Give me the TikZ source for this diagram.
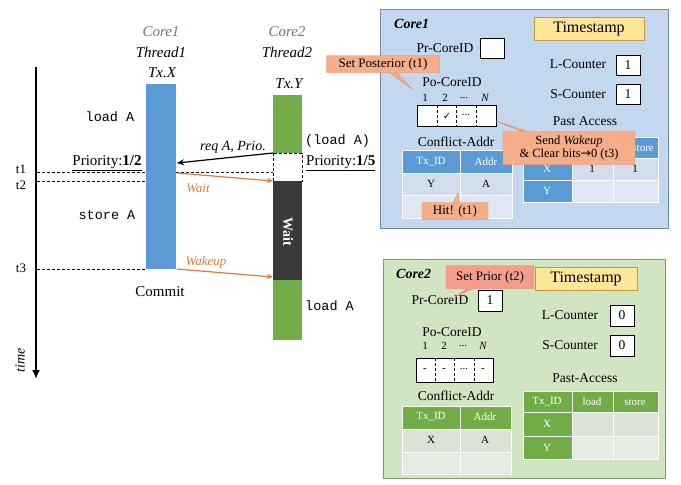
\documentclass[tikz,border=0pt]{standalone}
\usepackage{fontspec}
\setmainfont{Liberation Serif}
\setmonofont{Liberation Mono}
\newfontfamily\symfont{DejaVu Sans}
\usetikzlibrary{arrows.meta,shapes.callouts}
\definecolor{bluebar}{HTML}{5B9BD5}
\definecolor{greenbar}{HTML}{70AD47}
\definecolor{darkbar}{HTML}{3A3838}
\definecolor{panelA}{HTML}{C3D7EE}
\definecolor{panelAline}{HTML}{6C8CAE}
\definecolor{panelB}{HTML}{D2E5C2}
\definecolor{panelBline}{HTML}{7E9C66}
\definecolor{cellA}{HTML}{D3DEEC}
\definecolor{cellAb}{HTML}{DFE7F2}
\definecolor{cellB}{HTML}{DCE3D5}
\definecolor{cellBb}{HTML}{E6EBE1}
\definecolor{tsfill}{HTML}{FFE699}
\definecolor{tsline}{HTML}{C99A3A}
\definecolor{callfill}{HTML}{F5AE88}
\definecolor{callline}{HTML}{E88A5C}
\definecolor{priorfill}{HTML}{F39E8C}
\definecolor{orangearr}{HTML}{E07B39}
\definecolor{corelbl}{HTML}{5F7891}
\newcommand\myfs[1]{\fontsize{#1}{#1}\selectfont}
\begin{document}
\begin{tikzpicture}[x=1pt,y=-1pt,
  txt/.style={inner sep=0pt},
  serif15/.style={txt,font=\myfs{15}},
  mono/.style={txt,font=\ttfamily\myfs{13.5}},
  paneltxt/.style={txt,font=\myfs{13.5}},
  small/.style={txt,font=\myfs{11}},
  celltxt/.style={txt,font=\myfs{11}},
  hdrtxt/.style={txt,font=\myfs{11},text=white},
  tline/.style={densely dashed,line width=0.6pt},
  valbox/.style={draw=black,fill=white,line width=0.7pt},
  callbox/.style={rectangle callout,fill=callfill,draw=callline,line width=0.4pt,
     inner sep=2pt,font=\myfs{13}},
  ]
\useasboundingbox (0,0) rectangle (681,485);

% ---------------- time axis ----------------
\coordinate (axtop) at (36,67);
\coordinate (axbot) at (36,379);
\draw[line width=2pt,-{Latex[length=9pt,width=8pt]}] (axtop) -- (axbot);
\node[rotate=90,font=\itshape\myfs{14}] (timelbl) at (20,360) {time};
\node[txt,font=\myfs{13}] (t1) at (21,169) {t1};
\node[txt,font=\myfs{13}] (t2) at (21,185) {t2};
\node[txt,font=\myfs{13}] (t3) at (21,268) {t3};

% ---------------- bars ----------------
\fill[bluebar] (146,84) rectangle (176,269);
\fill[greenbar] (273,95) rectangle (302,153);
\fill[white] (273,153) rectangle (302,181);
\draw[densely dashed,line width=0.6pt] (273,153) rectangle (302,181);
\fill[darkbar] (273,181) rectangle (302,280);
\fill[greenbar] (273,280) rectangle (302,340);
\node[rotate=-90,text=white,font=\bfseries\myfs{14}] (waitv) at (288,232) {Wait};

% dashed time lines
\coordinate (d1a) at (37,172); \coordinate (d1b) at (146,172);
\coordinate (d1c) at (176,172); \coordinate (d1d) at (273,172);
\coordinate (d2a) at (37,181); \coordinate (d2b) at (146,181);
\coordinate (d3a) at (37,269); \coordinate (d3b) at (146,269);
\draw[tline] (d1a) -- (d1b);
\draw[tline] (d1c) -- (d1d);
\draw[tline] (d2a) -- (d2b);
\draw[tline] (d3a) -- (d3b);

% arrows
\coordinate (reqS) at (273,153); \coordinate (reqE) at (177,163);
\draw[line width=1.2pt,-{Stealth[length=7pt,width=6pt]}] (reqS) -- (reqE);
\coordinate (waitS) at (177,173); \coordinate (waitE) at (273,181);
\draw[orangearr,line width=1.2pt,-{Stealth[length=6pt,width=5pt]}] (waitS) -- (waitE);
\coordinate (wakS) at (177,269); \coordinate (wakE) at (273,277);
\draw[orangearr,line width=1.2pt,-{Stealth[length=6pt,width=5pt]}] (wakS) -- (wakE);

% timeline labels
\node[serif15,font=\itshape\myfs{15},text=corelbl] (c1a) at (161,32) {Core1};
\node[serif15,font=\itshape\myfs{15}] (c1b) at (161,52) {Thread1};
\node[serif15,font=\itshape\myfs{15}] (c1c) at (162,73) {Tx.X};
\node[serif15,font=\itshape\myfs{15},text=corelbl] (c2a) at (287,32) {Core2};
\node[serif15,font=\itshape\myfs{15}] (c2b) at (287,52) {Thread2};
\node[serif15,font=\itshape\myfs{15}] (c2c) at (289,84) {Tx.Y};

\node[mono] (ldA) at (110,117) {load A};
\node[serif15] (pr12) at (107,163) {\underline{Priority:\textbf{1/2}}};
\node[mono] (stA) at (107,215) {store A};
\node[serif15] (commit) at (160,292) {Commit};
\node[mono,anchor=west] (ldA2) at (305,141) {(load A)};
\node[serif15,anchor=west] (pr15) at (306,163) {\underline{Priority:\textbf{1/5}}};
\node[mono,anchor=west] (ldA3) at (305,306) {load A};
\node[txt,font=\itshape\myfs{14}] (reqlbl) at (233,147) {req A, Prio.};
\node[txt,font=\itshape\myfs{13},text=orangearr] (waitlbl) at (198,188) {Wait};
\node[txt,font=\itshape\myfs{13},text=orangearr] (waklbl) at (206,262) {Wakeup};

% ================= Core1 panel =================
\draw[fill=panelA,draw=panelAline,line width=1pt] (380,9) rectangle (668,228);
\node[txt,font=\bfseries\itshape\myfs{14},anchor=west] (p1core) at (394,24) {Core1};
\draw[fill=tsfill,draw=tsline,line width=0.8pt] (534,17) rectangle (644,40);
\node[txt,font=\myfs{16}] (p1ts) at (589,29) {Timestamp};
\node[paneltxt] (p1pr) at (445,48) {Pr-CoreID};
\draw[valbox] (480,38) rectangle (504,58);
\node[paneltxt] (p1lc) at (578,64) {L-Counter};
\draw[valbox] (616,55) rectangle (640,75);
\node[paneltxt] (p1lcv) at (628,65) {1};
\node[paneltxt] (p1sc) at (578,94) {S-Counter};
\draw[valbox] (616,84) rectangle (640,104);
\node[paneltxt] (p1scv) at (628,94) {1};
\node[paneltxt] (p1po) at (452,82) {Po-CoreID};
\node[small] (p1n1) at (425,98) {1};
\node[small] (p1n2) at (445,98) {2};
\node[small] (p1n3) at (464,98) {...};
\node[small,font=\itshape\myfs{11}] (p1n4) at (485,98) {N};
\draw[valbox] (417,105) rectangle (496,126);
\draw[densely dashed,line width=0.5pt] (437,105) -- (437,126) (456,105) -- (456,126) (476,105) -- (476,126);
\node[txt,font=\symfont\myfs{10}] (p1chk) at (447,116) {✓};
\node[small] (p1dots) at (466,115) {...};
\node[paneltxt] (p1pa) at (585,121) {Past Access};
\node[paneltxt] (p1ca) at (456,142) {Conflict-Addr};
% conflict table core1
\begin{scope}[draw=white,line width=1pt]
\filldraw[fill=bluebar] (402,150) rectangle (460,173);
\filldraw[fill=bluebar] (460,150) rectangle (512,173);
\filldraw[fill=cellA] (402,173) rectangle (460,195);
\filldraw[fill=cellA] (460,173) rectangle (512,195);
\filldraw[fill=cellAb] (402,195) rectangle (460,218);
\filldraw[fill=cellAb] (460,195) rectangle (512,218);
\end{scope}
\node[hdrtxt] (p1h1) at (431,162) {Tx\_ID};
\node[hdrtxt] (p1h2) at (486,162) {Addr};
\node[celltxt] (p1r1) at (431,184) {Y};
\node[celltxt] (p1r2) at (486,184) {A};
% past access core1
\begin{scope}[draw=white,line width=1pt]
\filldraw[fill=bluebar] (523,137) rectangle (572,158);
\filldraw[fill=bluebar] (572,137) rectangle (613,158);
\filldraw[fill=bluebar] (613,137) rectangle (658,158);
\filldraw[fill=bluebar] (523,158) rectangle (572,180);
\filldraw[fill=cellA] (572,158) rectangle (613,180);
\filldraw[fill=cellA] (613,158) rectangle (658,180);
\filldraw[fill=bluebar] (523,180) rectangle (572,202);
\filldraw[fill=cellAb] (572,180) rectangle (613,202);
\filldraw[fill=cellAb] (613,180) rectangle (658,202);
\end{scope}
\node[hdrtxt,anchor=east] (p1q3) at (654,148) {store};
\node[hdrtxt] (p1x) at (547,169) {X};
\node[celltxt] (p1x1) at (592,169) {1};
\node[celltxt] (p1x2) at (635,169) {1};
\node[hdrtxt] (p1y) at (547,191) {Y};

% callouts core1
\node[callbox,minimum width=113pt,minimum height=17pt,
  callout absolute pointer={(412,89)}] (setpost) at (383,64) {Set Posterior (t1)};
\node[callbox,minimum width=132pt,minimum height=33pt,align=center,
  font=\myfs{12.5},callout pointer width=5pt,
  callout absolute pointer={(496,121)}] (sendwak) at (569,148)
  {Send \textit{Wakeup}\\\& Clear bits{\symfont →}0 (t3)};
\node[callbox,minimum width=66pt,minimum height=17pt,callout pointer width=6pt,
  callout absolute pointer={(458,193)}] (hit) at (455,211) {Hit! (t1)};

% ================= Core2 panel =================
\draw[fill=panelB,draw=panelBline,line width=1pt] (383,259) rectangle (665,478);
\node[txt,font=\bfseries\itshape\myfs{14},anchor=west] (p2core) at (396,274) {Core2};
\draw[fill=tsfill,draw=tsline,line width=0.8pt] (535,267) rectangle (637,290);
\node[txt,font=\myfs{16}] (p2ts) at (586,279) {Timestamp};
\node[paneltxt] (p2pr) at (440,300) {Pr-CoreID};
\draw[valbox] (478,290) rectangle (502,311);
\node[paneltxt] (p2prv) at (490,300) {1};
\node[paneltxt] (p2lc) at (570,315) {L-Counter};
\draw[valbox] (610,305) rectangle (634,326);
\node[paneltxt] (p2lcv) at (622,315) {0};
\node[paneltxt] (p2sc) at (570,345) {S-Counter};
\draw[valbox] (610,335) rectangle (634,356);
\node[paneltxt] (p2scv) at (622,345) {0};
\node[paneltxt] (p2po) at (452,332) {Po-CoreID};
\node[small] (p2n1) at (425,346) {1};
\node[small] (p2n2) at (444,346) {2};
\node[small] (p2n3) at (463,346) {...};
\node[small,font=\itshape\myfs{11}] (p2n4) at (483,346) {N};
\draw[valbox] (416,358) rectangle (493,382);
\draw[densely dashed,line width=0.5pt] (435,358) -- (435,382) (454,358) -- (454,382) (474,358) -- (474,382);
\node[small] (p2c1) at (425,370) {-};
\node[small] (p2c2) at (444,370) {-};
\node[small] (p2c3) at (464,369) {...};
\node[small] (p2c4) at (483,370) {-};
\node[paneltxt] (p2pa) at (585,378) {Past-Access};
\node[paneltxt] (p2ca) at (456,396) {Conflict-Addr};
\begin{scope}[draw=white,line width=1pt]
\filldraw[fill=greenbar] (402,406) rectangle (460,429);
\filldraw[fill=greenbar] (460,406) rectangle (511,429);
\filldraw[fill=cellB] (402,429) rectangle (460,452);
\filldraw[fill=cellB] (460,429) rectangle (511,452);
\filldraw[fill=cellBb] (402,452) rectangle (460,474);
\filldraw[fill=cellBb] (460,452) rectangle (511,474);
\end{scope}
\node[hdrtxt] (p2h1) at (431,417) {Tx\_ID};
\node[hdrtxt] (p2h2) at (485,417) {Addr};
\node[celltxt] (p2r1) at (431,440) {X};
\node[celltxt] (p2r2) at (485,440) {A};
\begin{scope}[draw=white,line width=1pt]
\filldraw[fill=greenbar] (523,391) rectangle (572,412);
\filldraw[fill=greenbar] (572,391) rectangle (613,412);
\filldraw[fill=greenbar] (613,391) rectangle (658,412);
\filldraw[fill=greenbar] (523,412) rectangle (572,436);
\filldraw[fill=cellB] (572,412) rectangle (613,436);
\filldraw[fill=cellB] (613,412) rectangle (658,436);
\filldraw[fill=greenbar] (523,436) rectangle (572,459);
\filldraw[fill=cellBb] (572,436) rectangle (613,459);
\filldraw[fill=cellBb] (613,436) rectangle (658,459);
\end{scope}
\node[hdrtxt] (p2q1) at (547,402) {Tx\_ID};
\node[hdrtxt] (p2q2) at (592,402) {load};
\node[hdrtxt] (p2q3) at (635,402) {store};
\node[hdrtxt] (p2x) at (547,424) {X};
\node[hdrtxt] (p2y) at (547,448) {Y};

\node[callbox,fill=priorfill,draw=priorfill!80!red,minimum width=88pt,minimum height=23pt,
  callout pointer width=6pt,
  callout absolute pointer={(455,297)}] (setprior) at (490,277) {Set Prior (t2)};
\end{tikzpicture}
\end{document}
